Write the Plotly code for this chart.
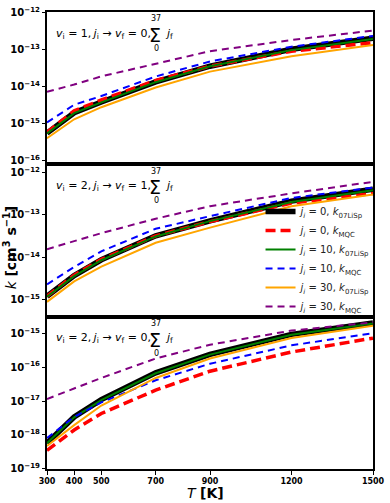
import plotly.graph_objects as go
from plotly.subplots import make_subplots

# temperatures (K) shared by all panels
temperature = [300, 400, 500, 700, 900, 1200, 1500]
x_ticks = [300, 400, 500, 700, 900, 1200, 1500]

# panel 1: v_i = 1 -> v_f = 0
p1_j0_lisp = [5.5e-16, 1.95e-15, 3.8e-15, 1.32e-14, 3.5e-14, 1.0e-13, 2.0e-13]
p1_j0_moqc = [5.8e-16, 2.2e-15, 4.3e-15, 1.45e-14, 3.5e-14, 8.9e-14, 1.5e-13]
p1_j10_lisp = [5.4e-16, 1.9e-15, 3.7e-15, 1.3e-14, 3.5e-14, 9.5e-14, 1.9e-13]
p1_j10_moqc = [1.07e-15, 3.2e-15, 5.5e-15, 1.85e-14, 4.7e-14, 1.17e-13, 2.3e-13]
p1_j30_lisp = [4.0e-16, 1.3e-15, 2.75e-15, 9.3e-15, 2.5e-14, 6.5e-14, 1.3e-13]
p1_j30_moqc = [7.2e-15, 1.12e-14, 1.86e-14, 4.0e-14, 8.9e-14, 1.78e-13, 3.2e-13]

# panel 2: v_i = 2 -> v_f = 1
p2_j0_lisp = [1.2e-15, 3.7e-15, 8.7e-15, 3.2e-14, 7.2e-14, 2.1e-13, 4.0e-13]
p2_j0_moqc = [1.2e-15, 3.8e-15, 8.9e-15, 3.2e-14, 6.9e-14, 1.9e-13, 3.2e-13]
p2_j10_lisp = [1.17e-15, 3.6e-15, 8.5e-15, 3.1e-14, 7.1e-14, 2.0e-13, 3.8e-13]
p2_j10_moqc = [2.3e-15, 5.9e-15, 1.38e-14, 4.7e-14, 9.3e-14, 2.5e-13, 4.4e-13]
p2_j30_lisp = [8.9e-16, 2.7e-15, 6.0e-15, 2.2e-14, 5.0e-14, 1.6e-13, 3.0e-13]
p2_j30_moqc = [1.55e-14, 2.4e-14, 3.7e-14, 8.1e-14, 1.6e-13, 3.2e-13, 6.0e-13]

# panel 3: v_i = 2 -> v_f = 0
p3_j0_lisp = [5.8e-19, 3.4e-18, 1.1e-17, 6.8e-17, 2.4e-16, 9.3e-16, 2.0e-15]
p3_j0_moqc = [3.5e-19, 1.4e-18, 4.3e-18, 2.1e-17, 7.6e-17, 2.8e-16, 7.2e-16]
p3_j10_lisp = [5.7e-19, 3.3e-18, 1.07e-17, 6.6e-17, 2.35e-16, 9.1e-16, 1.95e-15]
p3_j10_moqc = [8.1e-19, 3.4e-18, 9.1e-18, 4.1e-17, 1.26e-16, 4.4e-16, 1.0e-15]
p3_j30_lisp = [4.7e-19, 1.95e-18, 7.4e-18, 4.8e-17, 1.8e-16, 7.2e-16, 1.66e-15]
p3_j30_moqc = [1.15e-17, 2.4e-17, 4.8e-17, 1.8e-16, 4.6e-16, 1.2e-15, 2.1e-15]

series_names = [
    "<i>j<sub>i</sub></i> = 0, <i>k</i><sub>07LiSp</sub>",
    "<i>j<sub>i</sub></i> = 0, <i>k</i><sub>MQC</sub>",
    "<i>j<sub>i</sub></i> = 10, <i>k</i><sub>07LiSp</sub>",
    "<i>j<sub>i</sub></i> = 10, <i>k</i><sub>MQC</sub>",
    "<i>j<sub>i</sub></i> = 30, <i>k</i><sub>07LiSp</sub>",
    "<i>j<sub>i</sub></i> = 30, <i>k</i><sub>MQC</sub>",
]

panels = [
    [p1_j0_lisp, p1_j0_moqc, p1_j10_lisp, p1_j10_moqc, p1_j30_lisp, p1_j30_moqc],
    [p2_j0_lisp, p2_j0_moqc, p2_j10_lisp, p2_j10_moqc, p2_j30_lisp, p2_j30_moqc],
    [p3_j0_lisp, p3_j0_moqc, p3_j10_lisp, p3_j10_moqc, p3_j30_lisp, p3_j30_moqc],
]

panel_v = [("1", "0"), ("2", "1"), ("2", "0")]

# line styles, same order as series_names
line_styles = [
    dict(color="black", width=5.5),
    dict(color="red", width=3.5, dash="10px,5px"),
    dict(color="green", width=2),
    dict(color="blue", width=2, dash="7px,5px"),
    dict(color="orange", width=2),
    dict(color="purple", width=2, dash="7px,5px"),
]

y_ranges = [[-16.1, -11.995], [-15.4, -11.81], [-19.005, -14.51]]

fig = make_subplots(rows=3, cols=1, shared_xaxes=True, vertical_spacing=0)

for row, series in enumerate(panels, start=1):
    for name, values, style in zip(series_names, series, line_styles):
        fig.add_trace(go.Scatter(x=temperature, y=values, mode="lines",
                                 name=name, line=style,
                                 showlegend=(row == 2)),
                      row=row, col=1)

tick_font = dict(family="DejaVu Sans", size=8, color="black", weight="bold")

for row in range(1, 4):
    fig.update_yaxes(type="log", range=y_ranges[row - 1], dtick=1,
                     exponentformat="power", showgrid=False,
                     showline=True, linewidth=2, linecolor="black", mirror=True,
                     ticks="outside", ticklen=3.5, tickwidth=1, tickcolor="black",
                     tickfont=tick_font, zeroline=False,
                     ticklabeloverflow="allow",
                     row=row, col=1)
    fig.update_xaxes(range=[300, 1500], showgrid=False, zeroline=False,
                     showline=True, linewidth=2, linecolor="black", mirror=True,
                     tickvals=x_ticks, tickfont=tick_font,
                     ticks="outside" if row == 3 else "",
                     ticklen=3.5, tickwidth=1, tickcolor="black",
                     showticklabels=(row == 3),
                     ticklabeloverflow="allow",
                     row=row, col=1)

# panel labels: v_i, j_i -> v_f, sum over j_f
ann_font = dict(family="DejaVu Sans", size=11, color="black")
for row, (vi, vf) in enumerate(panel_v, start=1):
    sfx = "" if row == 1 else str(row)
    xr, yr = "x" + sfx + " domain", "y" + sfx + " domain"
    fig.add_annotation(x=0.021, y=0.857, xref=xr, yref=yr, xanchor="left",
                       yanchor="middle", showarrow=False, font=ann_font,
                       text="<i>v</i><sub>i</sub> = " + vi + ",\u2009<i>j</i><sub>i</sub> → "
                            "<i>v</i><sub>f</sub> = " + vf + ",")
    fig.add_annotation(x=0.331, y=0.85, xref=xr, yref=yr, xanchor="center",
                       yanchor="middle", showarrow=False,
                       font=dict(family="DejaVu Sans", size=19, color="black"),
                       text="Σ")
    fig.add_annotation(x=0.335, y=0.955, xref=xr, yref=yr, xanchor="center",
                       yanchor="middle", showarrow=False,
                       font=dict(family="DejaVu Sans", size=8, color="black"),
                       text="37")
    fig.add_annotation(x=0.335, y=0.76, xref=xr, yref=yr, xanchor="center",
                       yanchor="middle", showarrow=False,
                       font=dict(family="DejaVu Sans", size=8, color="black"),
                       text="0")
    fig.add_annotation(x=0.356, y=0.857, xref=xr, yref=yr, xanchor="left",
                       yanchor="middle", showarrow=False, font=ann_font,
                       text="<i>j</i><sub>f</sub>")

# axis titles
fig.add_annotation(x=-0.111, y=0.485, xref="paper", yref="paper",
                   xanchor="center", yanchor="middle",
                   showarrow=False, textangle=-90,
                   font=dict(family="DejaVu Sans", size=14, color="black"),
                   text="<i>k</i> <b>[cm<sup>3</sup> s<sup>−1</sup>]</b>")
fig.add_annotation(x=0.485, y=-0.052, xref="paper", yref="paper",
                   xanchor="center", yanchor="middle",
                   showarrow=False,
                   font=dict(family="DejaVu Sans", size=14, color="black"),
                   text="<i>T</i> <b>[K]</b>")

fig.update_layout(
    width=390, height=503,
    margin=dict(l=47, r=11, t=5, b=34),
    paper_bgcolor="white", plot_bgcolor="white",
    font=dict(family="DejaVu Sans", color="black"),
    legend=dict(x=0.655, y=0.595, xanchor="left", yanchor="top",
                bgcolor="rgba(255,255,255,0)", borderwidth=0,
                font=dict(family="DejaVu Sans", size=10, color="#222")),
)

# drop the page's default body margin so the figure sits at the corner
fig.write_html("out.html", config={"displayModeBar": False},
               post_script="document.body.style.margin='0';")
